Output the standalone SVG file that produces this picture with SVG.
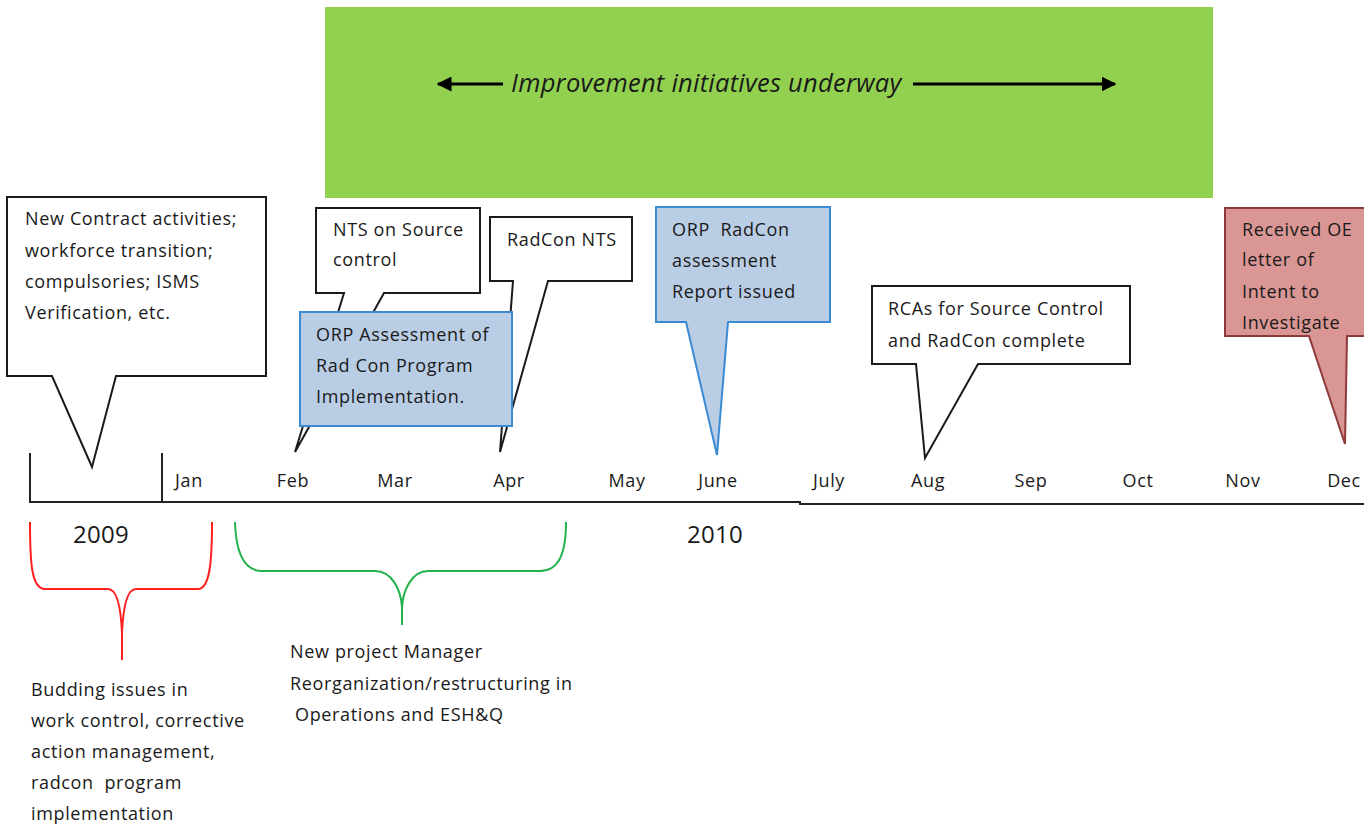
<svg xmlns="http://www.w3.org/2000/svg" width="1364" height="825" viewBox="0 0 1364 825">
<defs>
<style>
text{font-family:"Open Sans","Liberation Sans",Arial,sans-serif;font-size:18px;letter-spacing:0.65px;fill:#1a1a1a}
.m{text-anchor:middle}
.yr{font-size:24px;text-anchor:middle;letter-spacing:0.3px}
.ttl{font-size:25.5px;font-style:italic;letter-spacing:0.25px}
.wb{fill:#fff;stroke:#1a1a1a;stroke-width:2}
.bb{fill:#b9cde5;stroke:#3b8ad4;stroke-width:2}
.pb{fill:#d99694;stroke:#8e3a38;stroke-width:2}
.ln{fill:none;stroke:#222;stroke-width:2}
</style>
<marker id="ah" viewBox="0 0 10 10" refX="9" refY="5" markerWidth="5" markerHeight="5" orient="auto-start-reverse">
<path d="M0,0 L10,5 L0,10 Z" fill="#000"/>
</marker>
<clipPath id="pc"><rect x="1225" y="208" width="145" height="125"/></clipPath>
</defs>

<g id="banner">
<rect x="325" y="7" width="888" height="191" fill="#92d050"/>
<text class="ttl" x="511" y="92">Improvement initiatives underway</text>
</g>

<g id="connectors">
<line x1="503" y1="84" x2="438" y2="84" stroke="#000" stroke-width="3" marker-end="url(#ah)"/>
<line x1="913" y1="84" x2="1115" y2="84" stroke="#000" stroke-width="3" marker-end="url(#ah)"/>
<path class="ln" d="M30,453 V502 H800 V504 H1364"/>
<path class="ln" d="M162,453 V502"/>
<path d="M30,522 C30,560 31,589 45,589 H108 C118,589 121,610 122,633 V660 M122,633 C123,610 126,589 136,589 H198 C210,589 212,560 212,522" fill="none" stroke="#ff2020" stroke-width="2"/>
<path d="M235,522 C236,555 245,571 262,571 H375 C392,571 401,590 402,607 V625 M402,607 C403,590 412,571 428,571 H540 C558,571 566,555 566,522" fill="none" stroke="#22b14c" stroke-width="2"/>
</g>

<g id="n-contract">
<path class="wb" d="M7,197 H266 V376 H116 L92,467 L52,376 H7 Z"/>
<text x="25" y="225">New Contract activities;</text>
<text x="25" y="257">workforce transition;</text>
<text x="25" y="288">compulsories; ISMS</text>
<text x="25" y="319">Verification, etc.</text>
</g>

<g id="n-nts-source">
<path class="wb" d="M316,208 H480 V293 H384 L295,452 L344,293 H316 Z"/>
<text x="333" y="236">NTS on Source</text>
<text x="333" y="266">control</text>
</g>

<g id="n-radcon-nts">
<path class="wb" d="M490,217 H632 V281 H548 L500,452 L513,281 H490 Z"/>
<text x="507" y="246">RadCon NTS</text>
</g>

<g id="n-orp-assess">
<rect class="bb" x="300" y="312" width="212" height="114"/>
<text x="316" y="341">ORP Assessment of</text>
<text x="316" y="372">Rad Con Program</text>
<text x="316" y="403">Implementation.</text>
</g>

<g id="n-orp-report">
<path class="bb" d="M656,207 H830 V322 H728 L717,455 L686,322 H656 Z"/>
<text x="672" y="236" xml:space="preserve">ORP  RadCon</text>
<text x="672" y="267">assessment</text>
<text x="672" y="298">Report issued</text>
</g>

<g id="n-rcas">
<path class="wb" d="M872,286 H1130 V364 H978 L925,458 L916,364 H872 Z"/>
<text x="888" y="315">RCAs for Source Control</text>
<text x="888" y="347">and RadCon complete</text>
</g>

<g id="n-oe-letter">
<path class="pb" d="M1225,208 H1372 V336 H1347 L1345,444 L1309,336 H1225 Z"/>
<g clip-path="url(#pc)">
<text x="1242" y="236">Received OE</text>
<text x="1242" y="266">letter of</text>
<text x="1242" y="298">Intent to</text>
<text x="1242" y="329">Investigate</text>
</g>
</g>

<g id="months">
<text class="m" x="189" y="487">Jan</text>
<text class="m" x="293" y="487">Feb</text>
<text class="m" x="395" y="487">Mar</text>
<text class="m" x="509" y="487">Apr</text>
<text class="m" x="627" y="487">May</text>
<text class="m" x="718" y="487">June</text>
<text class="m" x="829" y="487">July</text>
<text class="m" x="928" y="487">Aug</text>
<text class="m" x="1031" y="487">Sep</text>
<text class="m" x="1138" y="487">Oct</text>
<text class="m" x="1243" y="487">Nov</text>
<text class="m" x="1344" y="487">Dec</text>
<text class="yr" x="101" y="543">2009</text>
<text class="yr" x="715" y="543">2010</text>
</g>

<g id="n-budding">
<text x="31" y="696">Budding issues in</text>
<text x="31" y="727">work control, corrective</text>
<text x="31" y="758">action management,</text>
<text x="31" y="789" xml:space="preserve">radcon  program</text>
<text x="31" y="820">implementation</text>
</g>

<g id="n-manager">
<text x="290" y="658">New project Manager</text>
<text x="290" y="690">Reorganization/restructuring in</text>
<text x="295" y="721">Operations and ESH&amp;Q</text>
</g>
</svg>
